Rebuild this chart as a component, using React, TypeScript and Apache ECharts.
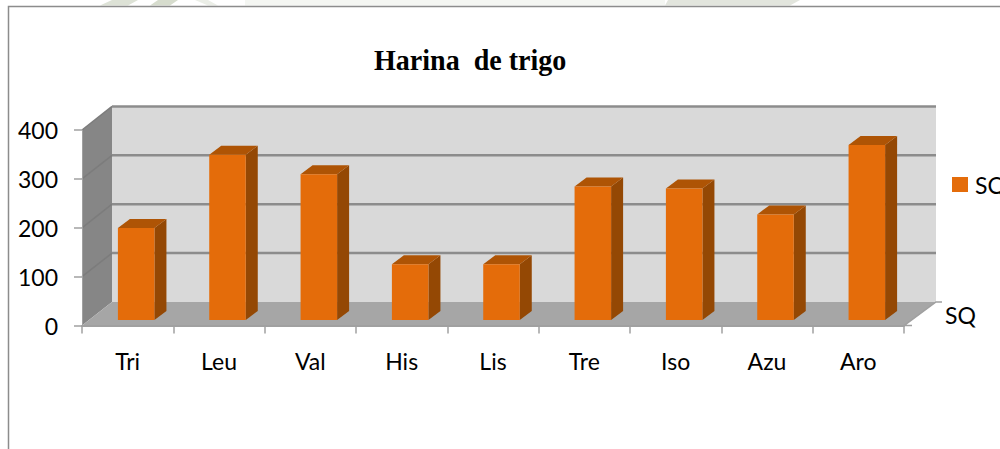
import React, { useEffect, useRef } from "react";
import * as echarts from "echarts";

const categories = ["Tri", "Leu", "Val", "His", "Lis", "Tre", "Iso", "Azu", "Aro"];
const seriesName = "SQ";
const values = [188, 338, 298, 114, 114, 273, 269, 216, 358];
const tickValues = [0, 100, 200, 300, 400];
const titleText = "Harina  de trigo";

const WALL_DX = 30;
const WALL_DY = -23.6;
const WALL_EXTRA = 2;
const BAR_DX = 12;
const BAR_DY = -9;
const BAR_SHIFT_X = 8.5;
const BAR_SHIFT_Y = -5.6;

const renderBar = (params: any, api: any) => {
  const cat = api.value(0);
  const top = api.coord([cat, api.value(1)]);
  const base = api.coord([cat, 0]);
  const w = api.size([1, 0])[0] * 0.4;
  const x0 = top[0] + BAR_SHIFT_X - w / 2;
  const x1 = x0 + w;
  const yT = top[1] + BAR_SHIFT_Y;
  const yB = base[1] + BAR_SHIFT_Y;
  return {
    type: "group",
    children: [
      {
        type: "polygon",
        shape: { points: [[x1, yT], [x1 + BAR_DX, yT + BAR_DY], [x1 + BAR_DX, yB + BAR_DY], [x1, yB]] },
        style: { fill: "#944804" },
      },
      {
        type: "polygon",
        shape: { points: [[x0, yT], [x0 + BAR_DX, yT + BAR_DY], [x1 + BAR_DX, yT + BAR_DY], [x1, yT]] },
        style: { fill: "#ae5405" },
      },
      {
        type: "rect",
        shape: { x: x0, y: yT, width: w, height: yB - yT },
        style: { fill: "#e46c0a" },
      },
    ],
  };
};

const renderWall = (params: any, api: any) => {
  const c = params.coordSys;
  const v = api.value(1);
  const y = api.coord([0, v])[1];
  const xL = c.x;
  const xR = c.x + c.width;
  const xBack = xR + WALL_DX + WALL_EXTRA;
  const children: any[] = [];
  if (v === tickValues[0]) {
    const yTop = c.y;
    children.push(
      {
        type: "polygon",
        shape: { points: [[xL + WALL_DX, yTop + WALL_DY], [xBack, yTop + WALL_DY], [xBack, y + WALL_DY], [xL + WALL_DX, y + WALL_DY]] },
        style: { fill: "#d9d9d9" },
      },
      {
        type: "polygon",
        shape: { points: [[xL, yTop], [xL + WALL_DX, yTop + WALL_DY], [xL + WALL_DX, y + WALL_DY], [xL, y]] },
        style: { fill: "#868686" },
      },
      {
        type: "polygon",
        shape: { points: [[xL, y], [xR, y], [xBack, y + WALL_DY], [xL + WALL_DX, y + WALL_DY]] },
        style: { fill: "#a6a6a6" },
      },
      {
        type: "polyline",
        shape: { points: [[xR + 8, y], [xR, y], [xBack, y + WALL_DY], [xBack + 6, y + WALL_DY]] },
        style: { fill: "none", stroke: "#a0a0a0", lineWidth: 1.5 },
      },
    );
  } else {
    children.push(
      {
        type: "line",
        shape: { x1: xL, y1: y, x2: xL + WALL_DX, y2: y + WALL_DY },
        style: { stroke: "#7c7c7c", lineWidth: 1.5 },
      },
      {
        type: "line",
        shape: { x1: xL + WALL_DX, y1: y + WALL_DY, x2: xBack, y2: y + WALL_DY },
        style: { stroke: "#8c8c8c", lineWidth: 2.5 },
      },
    );
  }
  return { type: "group", children };
};

export default function App() {
  const ref = useRef<HTMLDivElement>(null);
  useEffect(() => {
    const chart = echarts.init(ref.current!, undefined, { renderer: "svg" });
    chart.setOption({
      animation: false,
      backgroundColor: "#ffffff",
      textStyle: { fontFamily: "Lato" },
      legend: {
        data: [seriesName],
        left: 952,
        top: 173,
        padding: 0,
        itemWidth: 16,
        itemHeight: 15,
        itemGap: 0,
        icon: "rect",
        textStyle: { fontFamily: "Lato", fontSize: 23, color: "#000000", padding: [0, 0, 0, 2] },
      },
      grid: { left: 82, right: 96, top: 130, bottom: 123.4, containLabel: false },
      xAxis: {
        type: "category",
        data: categories,
        z: 2,
        axisLine: { show: true, lineStyle: { color: "#a0a0a0", width: 2 } },
        axisTick: { show: true, length: 8, lineStyle: { color: "#a0a0a0", width: 1.5 } },
        axisLabel: { margin: 24, fontFamily: "Lato", fontSize: 23, color: "#000000" },
      },
      yAxis: {
        type: "value",
        min: 0,
        max: 400,
        interval: 100,
        z: 2,
        splitLine: { show: false },
        axisLine: { show: true, lineStyle: { color: "#a0a0a0", width: 1 } },
        axisTick: { show: true, length: 8, lineStyle: { color: "#a0a0a0", width: 1.5 } },
        axisLabel: { margin: 24, fontFamily: "Lato", fontSize: 23, color: "#000000" },
      },
      graphic: [
        { type: "rect", shape: { x: 245, y: 0, width: 420, height: 5.5 }, style: { fill: "#f4f6f2" }, silent: true },
        { type: "polygon", shape: { points: [[100, 5.5], [112, 0], [138, 0], [128, 5.5]] }, style: { fill: "#dde2d6" }, silent: true },
        { type: "polygon", shape: { points: [[150, 5.5], [158, 0], [178, 0], [170, 5.5]] }, style: { fill: "#d6dccd" }, silent: true },
        { type: "polygon", shape: { points: [[195, 0], [208, 0], [218, 5.5], [208, 5.5]] }, style: { fill: "#ebeee7" }, silent: true },
        { type: "polygon", shape: { points: [[665, 5.5], [668, 0], [800, 0], [790, 5.5]] }, style: { fill: "#e2e5dd" }, silent: true },
        {
          type: "polyline",
          shape: { points: [[8.5, 449], [8.5, 6.5], [1000, 6.5]] },
          style: { fill: "none", stroke: "#8c8c8c", lineWidth: 1.5 },
          silent: true,
        },
        {
          type: "text",
          x: 374,
          y: 45,
          scaleX: 0.935,
          style: { text: titleText, fontFamily: "Liberation Serif", fontWeight: "bold", fontSize: 30, fill: "#000000" },
        },
        {
          type: "text",
          x: 945,
          y: 303,
          style: { text: seriesName, fontFamily: "Lato", fontSize: 23, fill: "#000000" },
        },
      ],
      series: [
        {
          type: "custom",
          name: "walls",
          z: 1,
          clip: false,
          renderItem: renderWall,
          encode: { x: 0, y: 1 },
          data: tickValues.map((t) => [0, t]),
        },
        {
          type: "custom",
          name: seriesName,
          z: 3,
          clip: false,
          itemStyle: { color: "#e46c0a" },
          renderItem: renderBar,
          encode: { x: 0, y: 1 },
          data: values.map((v, i) => [i, v]),
        },
      ],
    });
    return () => chart.dispose();
  }, []);
  return <div ref={ref} style={{ position: "absolute", left: 0, top: 0, width: 1000, height: 449 }} />;
}
